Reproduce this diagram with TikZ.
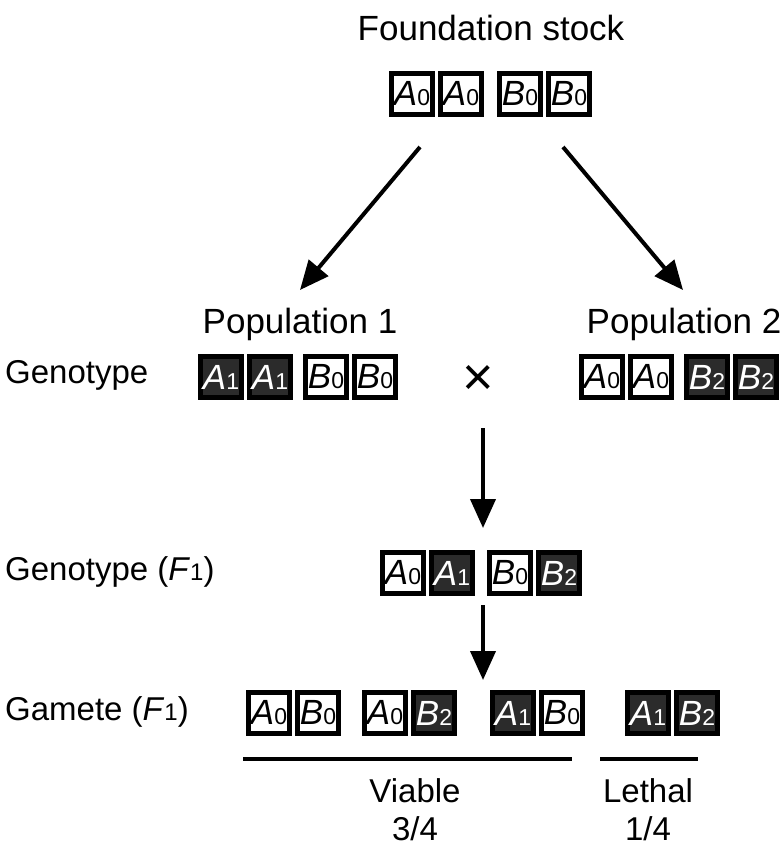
\documentclass[tikz,border=0pt]{standalone}
\usepackage{fontspec}
\setmainfont{Liberation Sans}
\usetikzlibrary{arrows.meta, positioning}
\definecolor{AlleleDark}{HTML}{2B2B2B}
\newcommand{\gene}[2]{\textit{#1}{\fontsize{23}{23}\selectfont #2}}
\newcommand{\gn}[2]{\textit{#1}{\fontsize{24}{24}\selectfont #2}}

\begin{document}
\begin{tikzpicture}[x=1pt, y=-1pt,
  allele/.style={rectangle, draw=black, line width=4.8pt, minimum size=41.2pt,
    inner sep=0pt, fill=white, font=\fontsize{35}{35}\selectfont},
  mutant/.style={allele, fill=AlleleDark, text=white},
  heading/.style={font=\fontsize{35}{40}\selectfont, inner sep=0pt, anchor=base},
  rowname/.style={font=\fontsize{33}{40}\selectfont, inner sep=0pt, anchor=base west},
  share/.style={font=\fontsize{33}{38}\selectfont, inner sep=0pt, align=center,
    anchor=base},
  flow/.style={-{Triangle[length=29pt, width=25pt]}, line width=4pt},
  rule/.style={line width=4pt}
]
  \useasboundingbox (0,0) rectangle (783,850);

  % foundation stock
  \node[heading] (fs) at (491,41) {Foundation stock};
  \node[allele] (fa1) at (412,94) {\gene{A}{0}};
  \node[allele, right=3pt of fa1] (fa2) {\gene{A}{0}};
  \node[allele, right=13pt of fa2] (fb1) {\gene{B}{0}};
  \node[allele, right=3pt of fb1] (fb2) {\gene{B}{0}};

  % two populations
  \node[heading] (pop1) at (300,333) {Population 1};
  \node[heading] (pop2) at (684,333) {Population 2};
  \coordinate (s1) at (420,147);
  \coordinate (t1) at (300,290);
  \coordinate (s2) at (563,147);
  \coordinate (t2) at (683,290);
  \draw[flow] (s1) -- (t1);
  \draw[flow] (s2) -- (t2);

  \node[rowname] (geno) at (5,383) {Genotype};
  \node[mutant] (pa1) at (221,377) {\gene{A}{1}};
  \node[mutant, right=3pt of pa1] (pa2) {\gene{A}{1}};
  \node[allele, right=10pt of pa2] (pb1) {\gene{B}{0}};
  \node[allele, right=3pt of pb1] (pb2) {\gene{B}{0}};
  \node[font=\fontsize{54}{54}\selectfont, inner sep=0pt] (cross) at (478,380) {×};
  \node[allele] (qa1) at (602,377) {\gene{A}{0}};
  \node[allele, right=3pt of qa1] (qa2) {\gene{A}{0}};
  \node[mutant, right=10pt of qa2] (qb1) {\gene{B}{2}};
  \node[mutant, right=3pt of qb1] (qb2) {\gene{B}{2}};

  % F1
  \node[rowname] (genof) at (5,580) {Genotype (\gn{F}{1})};
  \node[allele] (f1a) at (403,573) {\gene{A}{0}};
  \node[mutant, right=3pt of f1a] (f1b) {\gene{A}{1}};
  \node[allele, right=12pt of f1b] (f1c) {\gene{B}{0}};
  \node[mutant, right=3pt of f1c] (f1d) {\gene{B}{2}};
  \coordinate (d1) at (483,428);
  \coordinate (e1) at (483,528);
  \draw[flow] (d1) -- (e1);
  \coordinate (d2) at (483,605);
  \coordinate (e2) at (483,680);
  \draw[flow] (d2) -- (e2);

  % gametes
  \node[rowname] (gam) at (5,720) {Gamete (\gn{F}{1})};
  \node[allele] (g1a) at (269,713) {\gene{A}{0}};
  \node[allele, right=3pt of g1a] (g1b) {\gene{B}{0}};
  \node[allele] (g2a) at (385,713) {\gene{A}{0}};
  \node[mutant, right=3pt of g2a] (g2b) {\gene{B}{2}};
  \node[mutant] (g3a) at (513,713) {\gene{A}{1}};
  \node[allele, right=3pt of g3a] (g3b) {\gene{B}{0}};
  \node[mutant] (g4a) at (648,713) {\gene{A}{1}};
  \node[mutant, right=3pt of g4a] (g4b) {\gene{B}{2}};

  \coordinate (v1) at (243,759);
  \coordinate (v2) at (572,759);
  \coordinate (l1) at (600,759);
  \coordinate (l2) at (698,759);
  \draw[rule] (v1) -- (v2);
  \draw[rule] (l1) -- (l2);
  \node[share] (viable) at (415,840) {Viable\\3/4};
  \node[share] (lethal) at (648,840) {Lethal\\1/4};
\end{tikzpicture}
\end{document}
